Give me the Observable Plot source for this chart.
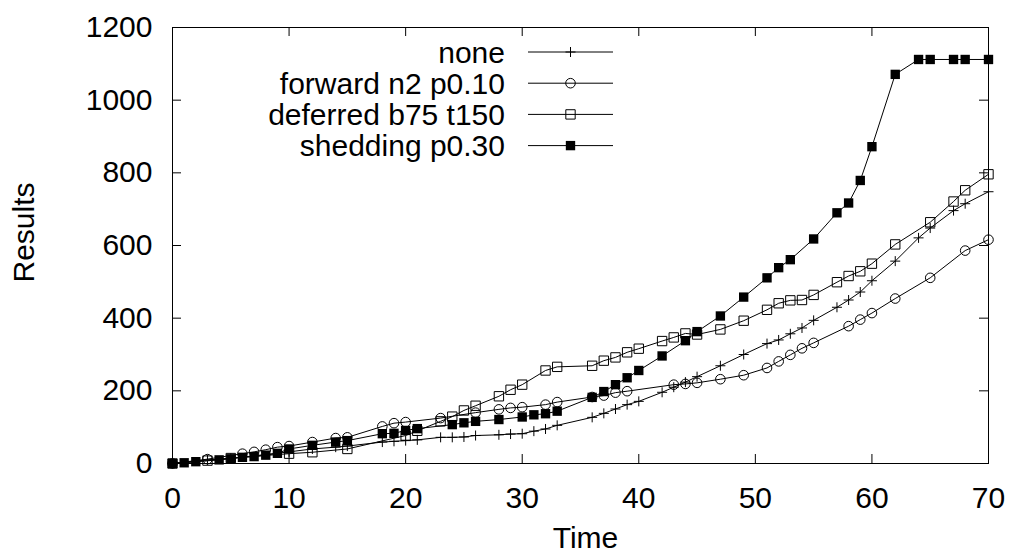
<!DOCTYPE html>
<html><head><meta charset="utf-8">
<script src="https://cdn.jsdelivr.net/npm/d3@7"></script>
<script src="https://cdn.jsdelivr.net/npm/@observablehq/plot@0.6"></script>
<style>body{margin:0;background:#fff}</style>
</head><body><div id="chart"></div>
<script>
const seriesNames = ["none", "forward n2 p0.10", "deferred b75 t150", "shedding p0.30"];

const noneTime = [0,3,5,10,12,14,15,18,19,20,21,23,24,25,26,28,29,30,31,32,33,36,37,38,39,40,42,43,44,45,47,49,51,52,53,54,55,57,58,59,60,62,64,65,67,68,70];
const noneVals = [0,10,14,32,40,45,48,59,61,63,65,72,72,73,77,79,81,82,89,95,105,127,138,150,162,171,196,210,224,239,269,300,330,340,357,373,394,430,450,472,503,557,621,648,696,715,748];

const forwardTime = [0,3,6,7,8,9,10,12,14,15,18,19,20,23,26,28,29,30,32,33,36,37,38,39,43,44,45,47,49,51,52,53,54,55,58,59,60,62,65,68,70];
const forwardVals = [0,12,27,32,38,45,48,59,70,72,102,111,114,125,140,149,153,155,162,169,183,187,195,199,217,219,222,232,243,263,281,299,317,332,378,396,414,454,511,586,616];

const deferredTime = [0,3,5,10,12,15,20,21,23,24,25,26,28,29,30,32,33,36,37,38,39,40,42,43,44,45,47,49,51,52,53,54,55,57,58,59,60,62,65,67,68,70];
const deferredVals = [0,8,15,27,31,40,77,90,116,129,146,159,185,203,217,256,266,269,283,292,306,316,337,347,358,355,369,393,423,441,449,450,464,499,516,529,550,603,664,721,752,796];

const sheddingTime = [0,1,2,4,5,6,7,8,9,10,12,14,15,18,19,20,21,24,25,26,28,30,31,32,33,36,37,38,39,40,42,44,45,47,49,51,52,53,55,57,58,59,60,62,64,65,67,68,70];
const sheddingVals = [0,2,5,10,13,17,19,23,28,40,50,59,63,82,83,91,96,107,112,116,121,128,134,137,144,182,198,217,236,256,296,338,363,406,458,511,539,561,618,690,717,779,872,1071,1112,1112,1112,1112,1112];

const xTicks = [0,10,20,30,40,50,60,70];
const yTicks = [0,200,400,600,800,1000,1200];

function rows(name, ts, vs) { return ts.map((t, i) => ({series: name, time: t, value: vs[i]})); }
const noneData = rows(seriesNames[0], noneTime, noneVals);
const forwardData = rows(seriesNames[1], forwardTime, forwardVals);
const deferredData = rows(seriesNames[2], deferredTime, deferredVals);
const sheddingData = rows(seriesNames[3], sheddingTime, sheddingVals);

const W = 1013, H = 554, mL = 172, mR = 25, mT = 27, mB = 91;
const plotW = W - mL - mR, plotH = H - mT - mB;
const tickLen = 9;
const FONT = "'Liberation Sans', Arial, Helvetica, sans-serif";
const FS = 30;

const plusSym = {draw(ctx, size) { const r = Math.sqrt(size / Math.PI); ctx.moveTo(-r, 0); ctx.lineTo(r, 0); ctx.moveTo(0, -r); ctx.lineTo(0, r); }};
const squareSym = {draw(ctx, size) { const h = Math.sqrt(size / Math.PI) * 0.9; ctx.moveTo(-h, -h); ctx.lineTo(h, -h); ctx.lineTo(h, h); ctx.lineTo(-h, h); ctx.closePath(); }};
const circleSym = {draw(ctx, size) { const r = Math.sqrt(size / Math.PI); ctx.moveTo(r, 0); ctx.arc(0, 0, r, 0, 2 * Math.PI); }};

const styles = [
  {data: noneData, symbol: plusSym, fill: "none", stroke: "#000", r: 5},
  {data: forwardData, symbol: circleSym, fill: "none", stroke: "#000", r: 4.8},
  {data: deferredData, symbol: squareSym, fill: "none", stroke: "#000", r: 5.2},
  {data: sheddingData, symbol: squareSym, fill: "#000", stroke: "none", r: 5.2}
];

const seriesMarks = styles.flatMap(s => [
  Plot.line(s.data, {x: "time", y: "value", stroke: "#000", strokeWidth: 1}),
  Plot.dot(s.data, {x: "time", y: "value", symbol: s.symbol, r: s.r, fill: s.fill, stroke: s.stroke, strokeWidth: 1})
]);

const svg = Plot.plot({
  width: W, height: H,
  marginLeft: mL, marginRight: mR, marginTop: mT, marginBottom: mB,
  style: {fontFamily: FONT, fontSize: FS + "px", background: "#fff", color: "#000"},
  x: {domain: [0, 70]},
  y: {domain: [0, 1200]},
  marks: [
    Plot.axisX({ticks: xTicks, tickSize: 0, tickPadding: 23, fontSize: FS, tickFormat: d => String(d), label: null}),
    Plot.axisY({ticks: yTicks, tickSize: 0, tickPadding: 20, fontSize: FS, tickFormat: d => String(d), label: null}),
    Plot.tickX(xTicks, {x: d => d, insetTop: plotH - tickLen, stroke: "#000"}),
    Plot.tickX(xTicks, {x: d => d, insetBottom: plotH - tickLen, stroke: "#000"}),
    Plot.tickY(yTicks, {y: d => d, insetRight: plotW - tickLen, stroke: "#000"}),
    Plot.tickY(yTicks, {y: d => d, insetLeft: plotW - tickLen, stroke: "#000"}),
    ...seriesMarks,
    Plot.frame({stroke: "#000", strokeWidth: 1}),
    Plot.text(["Time"], {frameAnchor: "bottom", dx: 5, dy: 75, lineAnchor: "middle", textAnchor: "middle", text: d => d, fontSize: FS, fill: "#000"}),
    Plot.text(["Results"], {frameAnchor: "left", dx: -148, dy: -13, rotate: -90, lineAnchor: "middle", textAnchor: "middle", text: d => d, fontSize: FS, fill: "#000"})
  ]
});

// Legend (inside the plot, top-left area, gnuplot style)
const legendTextRight = 505, lineX1 = 528, lineX2 = 613, rowY0 = 52, rowStep = 31.2;
const lg = d3.select(svg).append("g").attr("class", "legend");
styles.forEach((s, i) => {
  const y = rowY0 + i * rowStep;
  lg.append("text").attr("x", legendTextRight).attr("y", y).attr("dy", "0.35em")
    .attr("text-anchor", "end").attr("font-family", FONT).attr("font-size", FS).attr("fill", "#000")
    .text(seriesNames[i]);
  lg.append("line").attr("x1", lineX1).attr("x2", lineX2).attr("y1", y).attr("y2", y)
    .attr("stroke", "#000").attr("stroke-width", 1);
  const size = Math.PI * s.r * s.r;
  lg.append("path").attr("transform", `translate(${(lineX1 + lineX2) / 2},${y})`)
    .attr("d", d3.symbol(s.symbol, size)())
    .attr("fill", s.fill).attr("stroke", s.stroke).attr("stroke-width", 1);
});

document.getElementById("chart").appendChild(svg);
</script>
</body></html>
